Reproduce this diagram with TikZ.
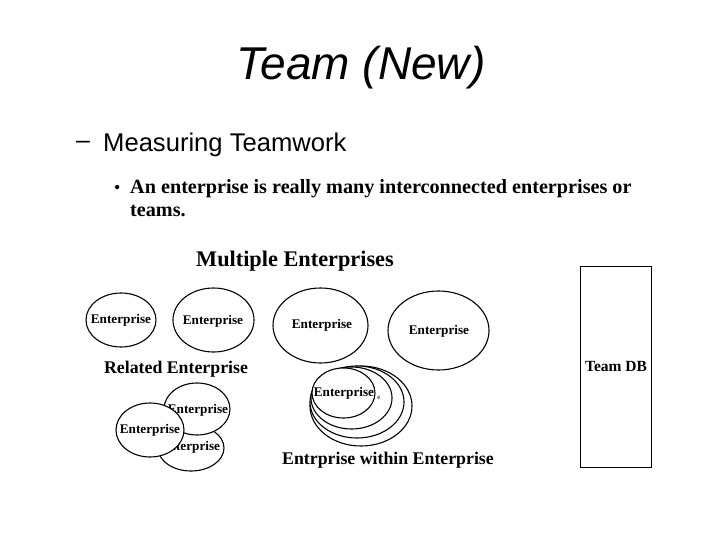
\documentclass[tikz,border=0pt]{standalone}
\usepackage{fontspec}
\setmainfont{Liberation Serif}
\newfontfamily\arialf{Liberation Sans}
\tikzset{
  ell/.style={draw=black, fill=white, line width=1.1pt},
  lbl/.style={inner sep=0pt, font=\fontsize{13.2}{14}\selectfont\bfseries},
  head/.style={inner sep=0pt, font=\fontsize{17.8}{20}\selectfont\bfseries},
}
\begin{document}
\begin{tikzpicture}[x=1pt,y=-1pt]
\useasboundingbox[fill=white] (0,0) rectangle (720,540);
% title and text
\node[inner sep=0pt, font=\fontsize{46}{50}\selectfont\arialf\itshape] (title) at (361,68) {Team (New)};
\node[inner sep=0pt, anchor=west, font=\fontsize{25}{28}\selectfont\arialf] (dash) at (76,145) {–};
\node[inner sep=0pt, anchor=west, font=\fontsize{25.6}{28}\selectfont\arialf] (measure) at (103,145) {Measuring Teamwork};
\node[inner sep=0pt, anchor=base west, font=\fontsize{18}{20}\selectfont] (bullet) at (114,194) {•};
\node[inner sep=0pt, anchor=base west, font=\fontsize{20.2}{22}\selectfont\bfseries] (line1) at (130,194) {An enterprise is really many interconnected enterprises or};
\node[inner sep=0pt, anchor=base west, font=\fontsize{20.2}{22}\selectfont\bfseries] (line2) at (130,216) {teams.};
% multiple enterprises
\node[inner sep=0pt, font=\fontsize{22.3}{24}\selectfont\bfseries] (multi) at (295,261) {Multiple Enterprises};
\draw[ell] (121,320) ellipse [x radius=35, y radius=27];
\node[lbl] (m1) at (121,320) {Enterprise};
\draw[ell] (213.5,320) ellipse [x radius=40.5, y radius=32];
\node[lbl] (m2) at (213,321) {Enterprise};
\draw[ell] (320.5,325.5) ellipse [x radius=47.5, y radius=37.5];
\node[lbl] (m3) at (322,325) {Enterprise};
\draw[ell] (438.5,330.5) ellipse [x radius=50.5, y radius=39.5];
\node[lbl] (m4) at (439,331) {Enterprise};
% related enterprise
\node[head] (related) at (176,369) {Related Enterprise};
\draw[ell] (191,448) ellipse [x radius=33, y radius=23];
\node[lbl] (r3) at (190,447) {Enterprise};
\draw[ell] (197,409) ellipse [x radius=33, y radius=26];
\node[lbl] (r2) at (198,410) {Enterprise};
\draw[ell] (150,430) ellipse [x radius=34, y radius=27];
\node[lbl] (r1) at (150,430) {Enterprise};
% enterprise within enterprise
\draw[ell] (361,406) ellipse [x radius=51, y radius=40];
\draw[ell] (357,402) ellipse [x radius=47, y radius=36];
\draw[ell] (351.5,398) ellipse [x radius=40.5, y radius=31];
\node[inner sep=0pt, font=\fontsize{7}{8}\selectfont] (esmall) at (379,398) {e};
\draw[ell] (343.5,393) ellipse [x radius=31.5, y radius=25];
\node[lbl] (w1) at (344,393) {Enterprise};
\node[head] (within) at (388,460) {Entrprise within Enterprise};
% team DB
\node[draw=black, line width=1pt, minimum width=71pt, minimum height=201pt, inner sep=0pt,
      font=\fontsize{15.5}{17}\selectfont\bfseries] (db) at (616,366.5) {Team DB};
\end{tikzpicture}
\end{document}
